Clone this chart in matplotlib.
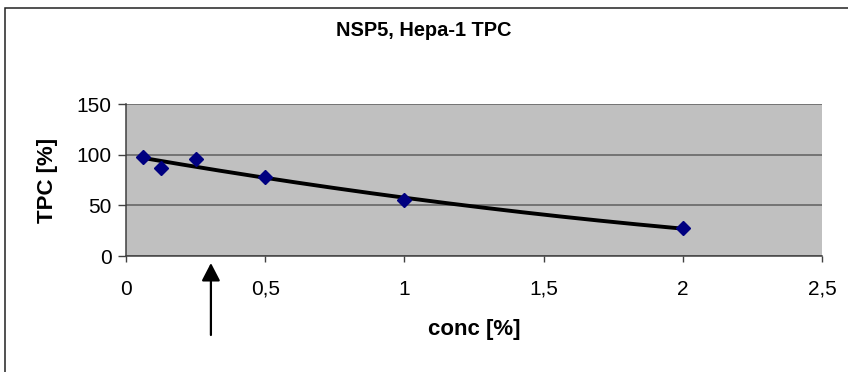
import numpy as np
import matplotlib
matplotlib.use("Agg")
import matplotlib.pyplot as plt
from matplotlib.patches import Rectangle

# ---- data ----
conc = [0.0625, 0.125, 0.25, 0.5, 1.0, 2.0]
tpc = [97.5, 86.7, 95.5, 77.8, 55.4, 27.4]
x_ticks = [0, 0.5, 1, 1.5, 2, 2.5]
x_ticklabels = ["0", "0,5", "1", "1,5", "2", "2,5"]
y_ticks = [0, 50, 100, 150]
y_ticklabels = ["0", "50", "100", "150"]
arrow_conc = 0.305
title = "NSP5, Hepa-1 TPC"
xlabel = "conc [%]"
ylabel = "TPC [%]"

plt.rcParams['font.family'] = ['Liberation Sans', 'DejaVu Sans']

W, H = 848, 372
fig = plt.figure(figsize=(W / 100, H / 100), dpi=100)
fig.patch.set_facecolor('white')

# outer chart frame
fig.patches.append(Rectangle((5 / W, -0.2), 1.2, 1.2 - 8 / H,
                             transform=fig.transFigure, fill=False,
                             edgecolor='#222222', linewidth=1.1))

ax = fig.add_axes([126 / W, (H - 256) / H, 696 / W, 152 / H])
ax.set_facecolor('#C0C0C0')
ax.set_xlim(0, 2.5)
ax.set_ylim(0, 150)

gridc = '#5f5f5f'
ax.yaxis.grid(True, color=gridc, linewidth=1.1)
ax.set_axisbelow(True)
for s in ['top', 'right']:
    ax.spines[s].set_visible(False)
for s in ['left', 'bottom']:
    ax.spines[s].set_color('#404040')
    ax.spines[s].set_linewidth(1.1)

ax.set_xticks(x_ticks)
ax.set_xticklabels(x_ticklabels, fontsize=15)
ax.set_yticks(y_ticks)
ax.set_yticklabels(y_ticklabels, fontsize=15)
ax.tick_params(axis='x', direction='out', length=4, width=1, color='#404040', pad=13)
ax.tick_params(axis='y', direction='out', length=5.5, width=1, color='#404040', pad=5)

# polynomial (order 2) trendline
coef = np.polyfit(conc, tpc, 2)
xx = np.linspace(min(conc), max(conc), 200)
ax.plot(xx, np.polyval(coef, xx), color='black', linewidth=2.8, zorder=3)

ax.plot(conc, tpc, linestyle='none', marker='D', markersize=7,
        markerfacecolor='#000080', markeredgecolor='#000080', zorder=4,
        clip_on=False)

ax.set_xlabel(xlabel, fontsize=16, fontweight='bold')
ax.xaxis.set_label_coords(0.5, (256 - 330) / 152)
ax.xaxis.label.set_verticalalignment('center')
ax.set_ylabel(ylabel, fontsize=16, fontweight='bold')
ax.yaxis.set_label_coords((47 - 126) / 696, 0.5)
ax.yaxis.label.set_verticalalignment('center')

fig.text(0.5, 1 - 30 / H, title, ha='center', va='center', fontsize=14.4,
         fontweight='bold')

ax.annotate('', xy=(arrow_conc, (256 - 263) / 152),
            xytext=(arrow_conc, (256 - 335) / 152),
            xycoords=ax.get_xaxis_transform(),
            textcoords=ax.get_xaxis_transform(),
            arrowprops=dict(arrowstyle='-|>,head_length=0.54,head_width=0.28',
                            mutation_scale=20, color='black', lw=1.6,
                            shrinkA=0, shrinkB=0))

fig.savefig('out.png', dpi=100)
